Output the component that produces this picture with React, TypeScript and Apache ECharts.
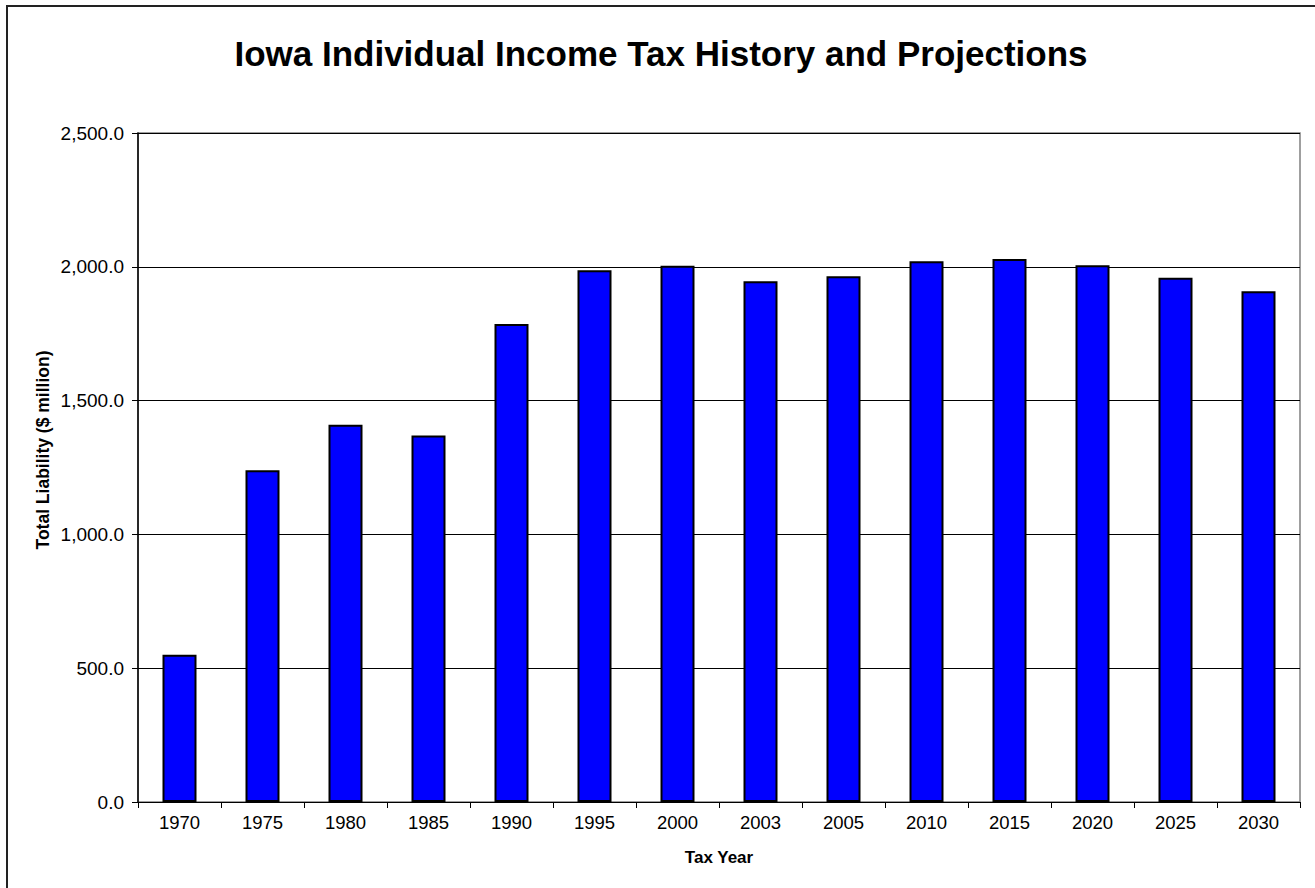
import React, { useEffect, useRef } from "react";
import * as echarts from "echarts";

const TITLE = "Iowa Individual Income Tax History and Projections";
const X_NAME = "Tax Year";
const Y_NAME = "Total Liability ($ million)";
const years = ["1970", "1975", "1980", "1985", "1990", "1995", "2000", "2003", "2005", "2010", "2015", "2020", "2025", "2030"];
const liability = [550, 1240, 1410, 1370, 1786, 1987, 2004, 1946, 1965, 2021, 2029, 2006, 1959, 1909];
const yTicks = { min: 0, max: 2500, interval: 500 };

function fmt(v: number): string {
  const s = v.toFixed(1);
  const [i, d] = s.split(".");
  return i.replace(/\B(?=(\d{3})+(?!\d))/g, ",") + "." + d;
}

export default function App() {
  const ref = useRef<HTMLDivElement>(null);
  useEffect(() => {
    if (!ref.current) return;
    const chart = echarts.init(ref.current, undefined, { renderer: "svg" });
    const font = "Arial, 'Liberation Sans', Helvetica, sans-serif";
    chart.setOption({
      animation: false,
      backgroundColor: "#ffffff",
      textStyle: { fontFamily: font },
      graphic: [
        {
          type: "rect",
          shape: { x: 7, y: 6, width: 1400, height: 1000 },
          style: { fill: "none", stroke: "#222", lineWidth: 2 },
          silent: true,
        },
        {
          type: "rect",
          shape: { x: 138, y: 133, width: 1162, height: 669 },
          style: { fill: "none", stroke: "#808080", lineWidth: 1.5 },
          silent: true,
          z: 0,
        },
        {
          type: "text",
          x: 661,
          y: 53,
          style: {
            text: TITLE,
            fill: "#000",
            font: "bold 35px Arial, 'Liberation Sans', sans-serif",
            align: "center",
            verticalAlign: "middle",
          },
          silent: true,
        },
        {
          type: "text",
          x: 43,
          y: 450,
          rotation: Math.PI / 2,
          style: {
            text: Y_NAME,
            fill: "#000",
            font: "bold 17.5px Arial, 'Liberation Sans', sans-serif",
            align: "center",
            verticalAlign: "middle",
          },
          silent: true,
        },
      ],
      grid: { left: 138, right: 15, top: 133, bottom: 86, containLabel: false },
      xAxis: {
        type: "category",
        data: years,
        name: X_NAME,
        nameLocation: "middle",
        nameGap: 47,
        nameTextStyle: { fontFamily: font, fontSize: 17, fontWeight: "bold", color: "#000" },
        axisLine: { lineStyle: { color: "#000", width: 1 } },
        axisTick: { show: true, length: 6, lineStyle: { color: "#000" } },
        axisLabel: { color: "#000", fontSize: 18.5, margin: 11, fontFamily: font },
        splitLine: { show: false },
      },
      yAxis: {
        type: "value",
        min: yTicks.min,
        max: yTicks.max,
        interval: yTicks.interval,
        axisLine: { show: true, lineStyle: { color: "#000", width: 1.5 } },
        axisTick: { show: true, length: 6, lineStyle: { color: "#000" } },
        axisLabel: { color: "#000", fontSize: 19, margin: 14, fontFamily: font, formatter: (v: number) => fmt(v) },
        splitLine: { show: true, lineStyle: { color: "#000", width: 1 } },
      },
      series: [
        {
          type: "bar",
          data: liability,
          barWidth: 34,
          itemStyle: { color: "#0000FF", borderColor: "#000", borderWidth: 2 },
        },
      ],
    });
    return () => chart.dispose();
  }, []);
  return <div ref={ref} style={{ position: "absolute", left: 0, top: 0, width: 1315, height: 888 }} />;
}
